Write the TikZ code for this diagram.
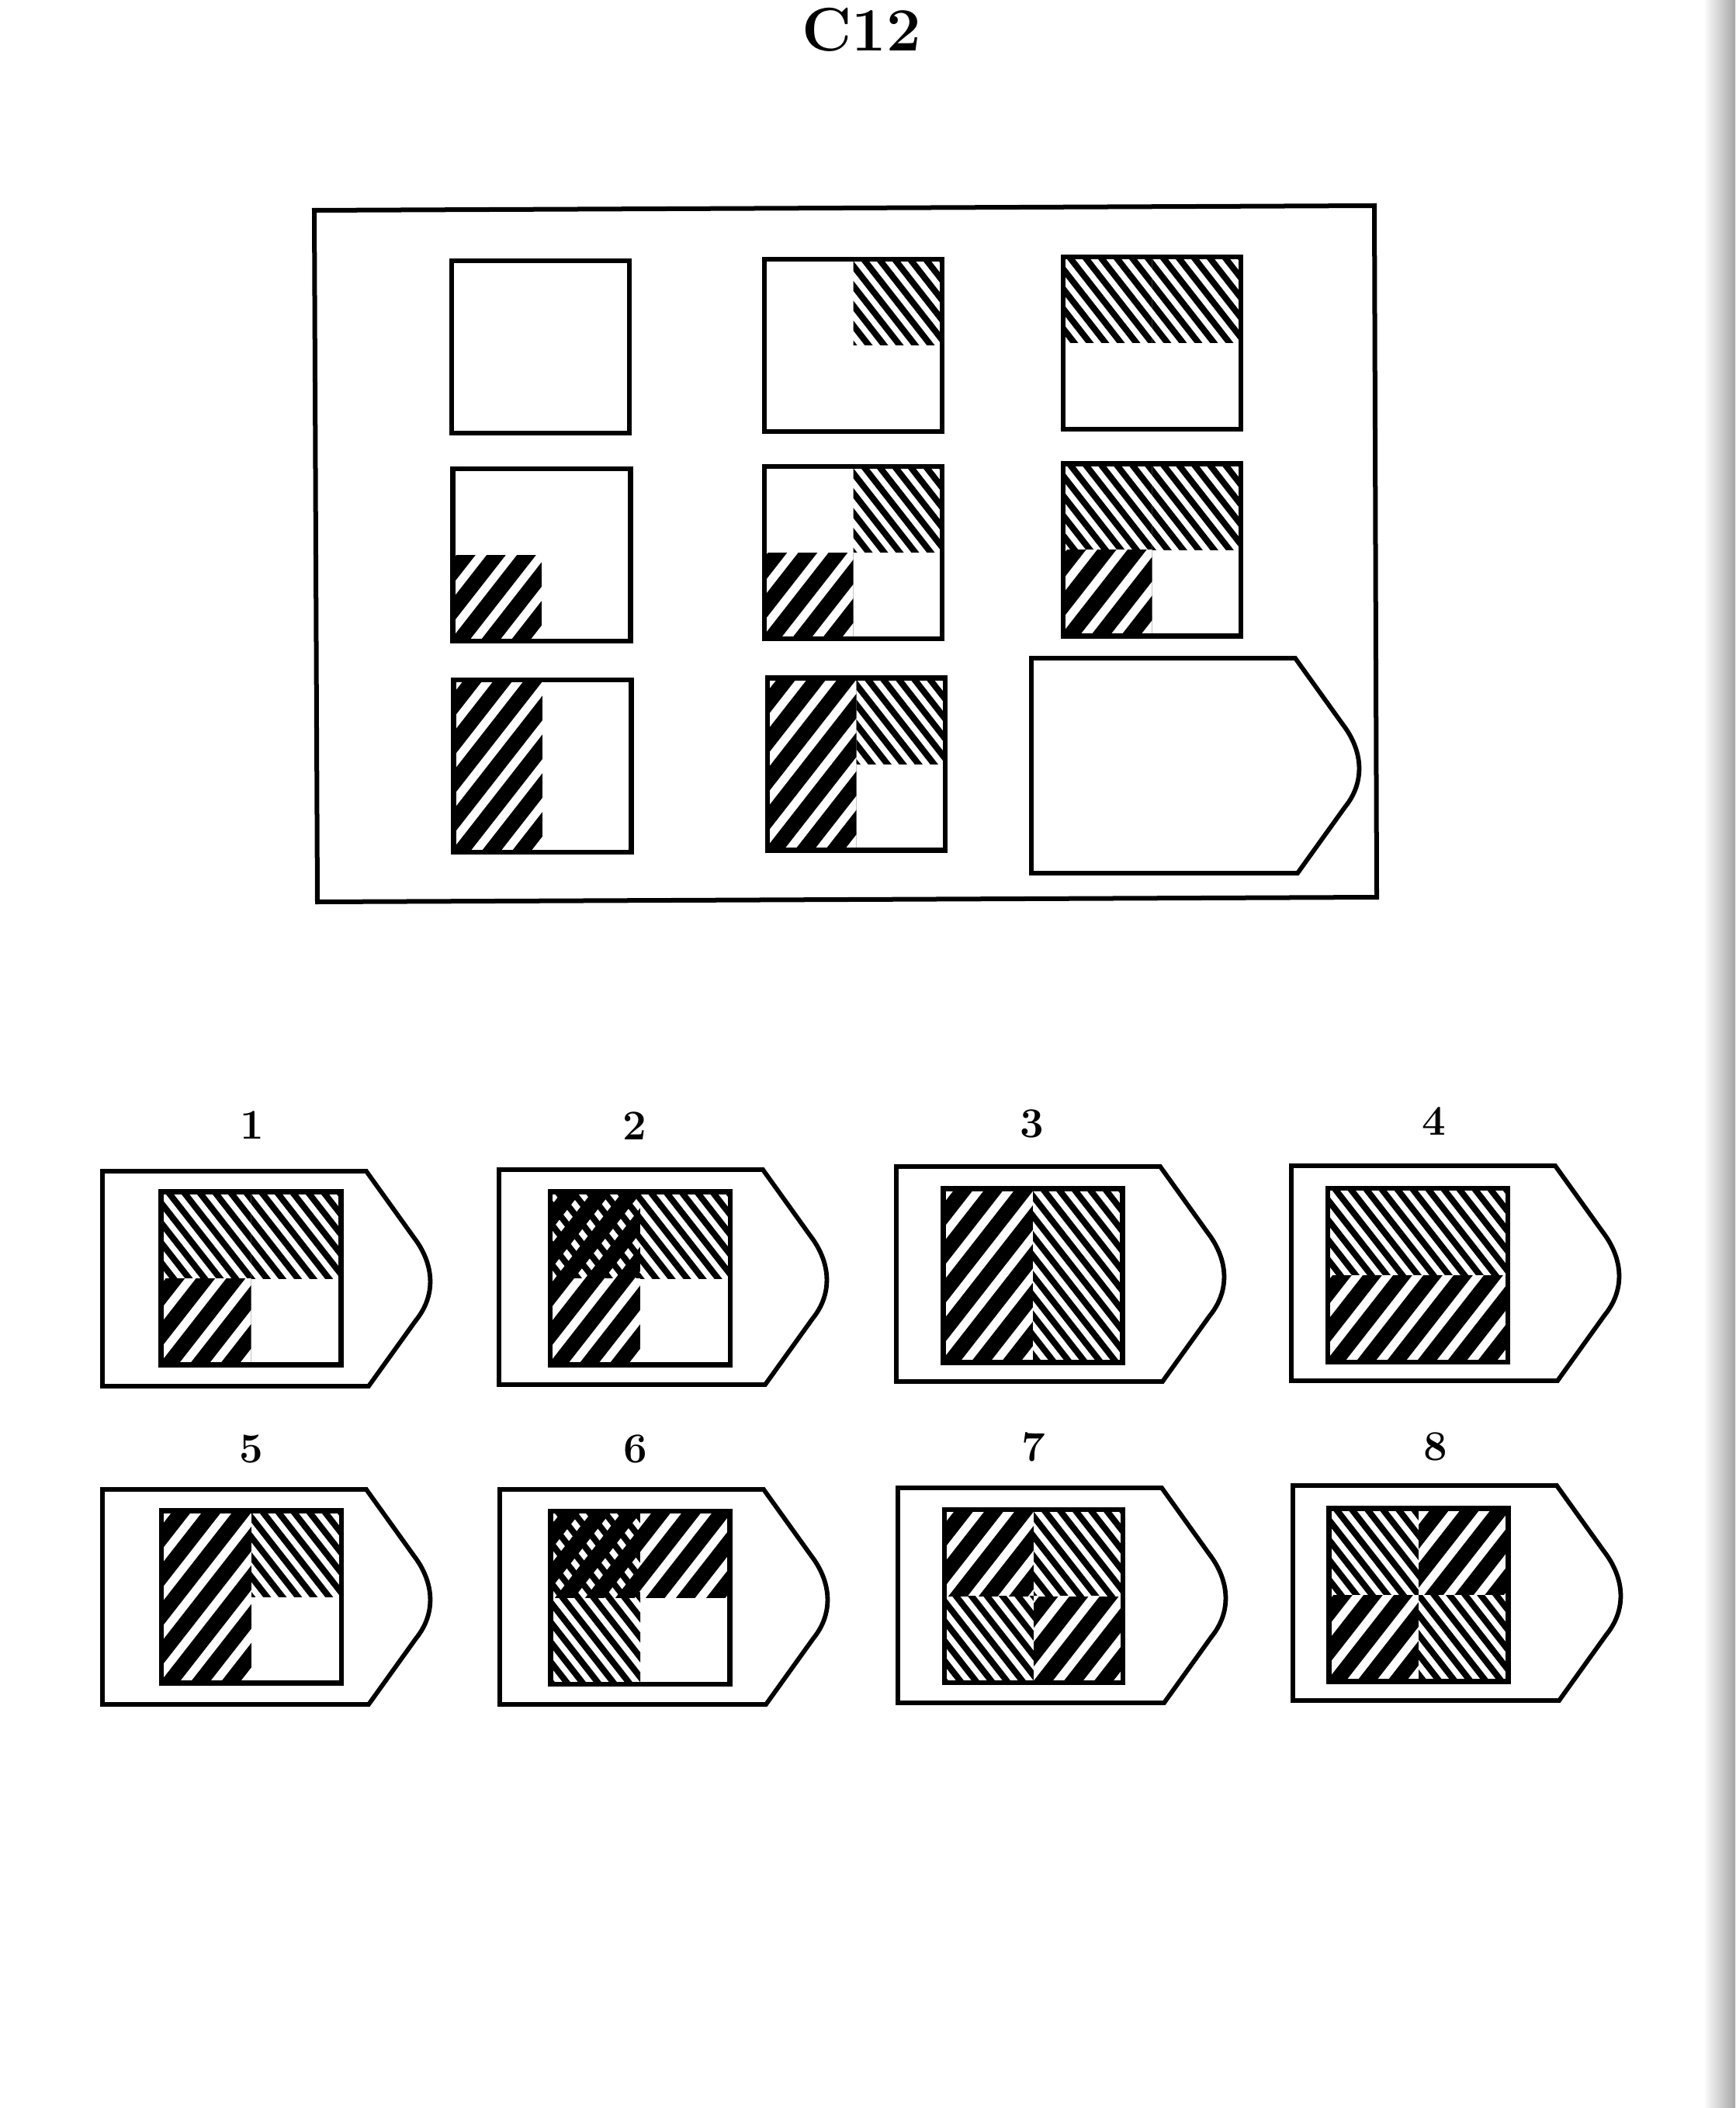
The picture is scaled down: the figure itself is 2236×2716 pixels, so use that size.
\documentclass[tikz,border=0pt]{standalone}
\begin{document}
\begin{tikzpicture}[x=0.01cm,y=-0.01cm]
\tikzset{
  cellbox/.style={draw=black, line width=0.068cm},
  frame/.style={draw=black, line width=0.06cm, line join=miter},
  tagbox/.style={draw=black, line width=0.058cm, line join=miter},
  lbl/.style={font=\fontsize{15.5}{16}\selectfont\bfseries, inner sep=0pt},
  ttl/.style={font=\fontsize{22.5}{23}\selectfont\bfseries, inner sep=0pt},
  thickstripe/.style={white, line width=0.11cm},
  thinstripe/.style={black, line width=0.08cm},
}
\newcommand\hatchthick[4]{%
 \begin{scope}
  \clip (#1,#2) rectangle (#3,#4);
  \fill[black] (#1,#2) rectangle (#3,#4);
  \foreach \k in {-9,...,9}{
    \draw[thickstripe] (\k*39-250,320) -- ++(500,-640);
  }
 \end{scope}}
\newcommand\hatchthin[4]{%
 \begin{scope}
  \clip (#1,#2) rectangle (#3,#4);
  \foreach \k in {-16,...,16}{
    \draw[thinstripe] (\k*20-250,-320) -- ++(500,640);
  }
 \end{scope}}
\newcommand\quadfill[5]{%
  \ifcase#1\relax
  \or \hatchthick{#2}{#3}{#4}{#5}%
  \or \hatchthin{#2}{#3}{#4}{#5}%
  \or \hatchthick{#2}{#3}{#4}{#5}\hatchthin{#2}{#3}{#4}{#5}%
  \fi}
% #1 cx, #2 cy, #3 w, #4 h, #5 TL, #6 TR, #7 BL, #8 BR
\newcommand\patsq[8]{%
 \begin{scope}[shift={(#1,#2)}]
  \pgfmathsetmacro\sqhw{#3/2}\pgfmathsetmacro\sqhh{#4/2}
  \quadfill{#5}{-\sqhw}{-\sqhh}{0}{0}
  \quadfill{#6}{0}{-\sqhh}{\sqhw}{0}
  \quadfill{#7}{-\sqhw}{0}{0}{\sqhh}
  \quadfill{#8}{0}{0}{\sqhw}{\sqhh}
  \draw[cellbox] (-\sqhw,-\sqhh) rectangle (\sqhw,\sqhh);
 \end{scope}}
\newcommand\anstag[2]{%
 \begin{scope}[shift={(#1,#2)}]
  \draw[tagbox] (0,0) -- (340,0) -- (401,85)
    .. controls (428,120) and (430,160) .. (404,192)
    -- (343,277) -- (0,277) -- cycle;
 \end{scope}}

\useasboundingbox (0,0) rectangle (2236,2716);
\fill[white] (0,0) rectangle (2236,2716);
\shade[left color=white, right color=black!35] (2195,0) rectangle (2236,2716);

% title
\node[ttl] (title) at (1110,38) {C12};

% matrix frame
\draw[frame] (405,271) -- (1771,265) -- (1774,1156) -- (409,1162) -- cycle;

% matrix cells
\patsq{696.5}{447}{229}{222}{0}{0}{0}{0}
\patsq{1099.5}{445}{229}{222}{0}{2}{0}{0}
\patsq{1484.5}{442}{229}{222}{2}{2}{0}{0}
\patsq{698}{715}{229}{222}{0}{0}{1}{0}
\patsq{1099.5}{712}{229}{222}{0}{2}{1}{0}
\patsq{1484.5}{708.5}{229}{222}{2}{2}{1}{0}
\patsq{699}{987}{229}{222}{1}{0}{1}{0}
\patsq{1103.5}{984.5}{229}{222}{1}{2}{1}{0}

% missing piece
\anstag{1329}{848}

% answer tags
\anstag{132}{1509}
\anstag{643}{1507}
\anstag{1155}{1503}
\anstag{1664}{1502}
\anstag{132}{1919}
\anstag{644}{1919}
\anstag{1157}{1917}
\anstag{1666}{1914}

% answer patterns
\patsq{323.5}{1647}{232}{223}{2}{2}{1}{0}
\patsq{825}{1647}{232}{223}{3}{2}{1}{0}
\patsq{1331}{1643.5}{231}{224}{1}{2}{1}{2}
\patsq{1827}{1643}{232}{224}{2}{2}{1}{1}
\patsq{324}{2057.5}{232}{222}{1}{2}{1}{0}
\patsq{825}{2058.5}{231}{223}{3}{1}{2}{0}
\patsq{1332}{2056.5}{230}{223}{1}{2}{2}{1}
\patsq{1828}{2055}{231}{223}{2}{1}{1}{2}

% labels
\node[lbl] (l1) at (325,1450) {1};
\node[lbl] (l2) at (818,1451) {2};
\node[lbl] (l3) at (1330,1448) {3};
\node[lbl] (l4) at (1848,1445) {4};
\node[lbl] (l5) at (324,1867) {5};
\node[lbl] (l6) at (819,1867) {6};
\node[lbl] (l7) at (1332,1864) {7};
\node[lbl] (l8) at (1850,1864) {8};
\end{tikzpicture}
\end{document}
